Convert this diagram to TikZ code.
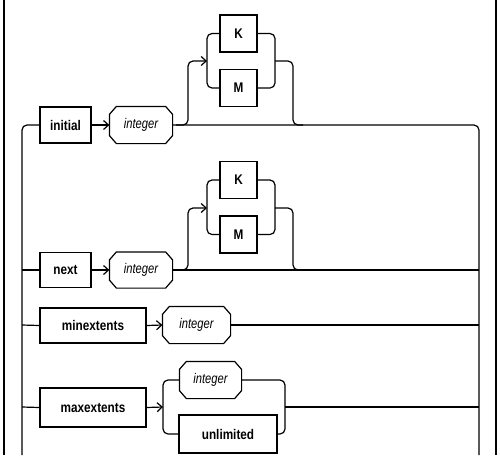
\documentclass[tikz,border=0pt]{standalone}
\usepackage{fontspec}
\setmainfont{Liberation Sans}
\newfontfamily\kwfont[FakeStretch=0.84]{Liberation Sans}
\newfontfamily\phfont[FakeStretch=0.80]{Liberation Sans}
\usetikzlibrary{arrows.meta}
\newcommand{\drawocta}[1]{%
  \draw ([xshift=7pt]#1.north west) -- ([xshift=-7pt]#1.north east)
    -- ([yshift=-8pt]#1.north east) -- ([yshift=8pt]#1.south east)
    -- ([xshift=-7pt]#1.south east) -- ([xshift=7pt]#1.south west)
    -- ([yshift=8pt]#1.south west) -- ([yshift=-8pt]#1.north west) -- cycle;}
\begin{document}
\begin{tikzpicture}[x=1pt,y=-1pt,line width=1.2pt,
  kw/.style={draw,rectangle,inner sep=0pt,font=\kwfont\bfseries\fontsize{14}{16}\selectfont},
  ph/.style={rectangle,inner sep=0pt,font=\phfont\itshape\fontsize{14}{16}\selectfont},
  arr/.style={-{Straight Barb[length=5pt,width=9pt]}},
  rc/.style={rounded corners=5pt}]
\useasboundingbox (0,0) rectangle (500,461);
% outer rails
\coordinate (olt) at (4,0);   \coordinate (olb) at (4,455);
\coordinate (ort) at (496,0); \coordinate (orb) at (496,455);
\draw (olt) -- (olb);
\draw (ort) -- (orb);
% inner rails
\coordinate (ilb) at (22,455);
\coordinate (irb) at (479,455);

% row 1
\node[kw,minimum width=51pt,minimum height=36pt] (initial) at (65.5,125) {initial};
\node[ph,minimum width=62pt,minimum height=36pt] (int1) at (141,125) {integer};
\drawocta{int1}
\node[kw,minimum width=37pt,minimum height=37pt] (K1) at (238.5,33.5) {K};
\node[kw,minimum width=37pt,minimum height=37pt] (M1) at (238.5,88) {M};
\draw[rc] (ilb) -- (22,125) -- (initial.west);
\draw[arr] (initial.east) -- (int1.west);
\draw[rc] (int1.east) -- (479,125) -- (irb);
\coordinate (g1in) at (207,61);
\coordinate (g1out) at (275,61);
\draw[rc,arr] (176,125) -- (188,125) -- (188,61) -- (g1in);
\draw[rc] (K1.west) -- (207,33.5) -- (207,88) -- (M1.west);
\draw[rc] (K1.east) -- (275,33.5) -- (275,88) -- (M1.east);
\draw[rc] (g1out) -- (293,61) -- (293,125) -- (303,125);

% row 2
\node[kw,minimum width=51pt,minimum height=35pt] (next) at (65.5,270) {next};
\node[ph,minimum width=62pt,minimum height=35pt] (int2) at (141,270) {integer};
\drawocta{int2}
\node[kw,minimum width=37pt,minimum height=37pt] (K2) at (238.5,180) {K};
\node[kw,minimum width=37pt,minimum height=37pt] (M2) at (238.5,234.5) {M};
\draw (22,270) -- (next.west);
\draw[arr] (next.east) -- (int2.west);
\draw (int2.east) -- (479,270);
\coordinate (g2in) at (207,208);
\coordinate (g2out) at (275,208);
\draw[rc,arr] (176,270) -- (188,270) -- (188,208) -- (g2in);
\draw[rc] (K2.west) -- (207,180) -- (207,234.5) -- (M2.west);
\draw[rc] (K2.east) -- (275,180) -- (275,234.5) -- (M2.east);
\draw[rc] (g2out) -- (293,208) -- (293,270) -- (303,270);

% row 3
\node[kw,minimum width=106pt,minimum height=35pt] (minext) at (93,325.5) {minextents};
\node[ph,minimum width=67pt,minimum height=36pt] (int3) at (196.5,325) {integer};
\drawocta{int3}
\draw (22,325) -- (minext.west);
\draw[arr] (minext.east) -- (int3.west);
\draw (int3.east) -- (479,325);

% row 4
\node[kw,minimum width=106pt,minimum height=39pt] (maxext) at (93,407.5) {maxextents};
\node[ph,minimum width=61pt,minimum height=36pt] (int4) at (210.5,380) {integer};
\drawocta{int4}
\node[kw,minimum width=98pt,minimum height=38pt] (unl) at (228,434) {unlimited};
\coordinate (g4in) at (163,407);
\coordinate (g4out) at (285,407);
\draw (22,407) -- (maxext.west);
\draw[arr] (maxext.east) -- (g4in);
\draw[rc] (int4.west) -- (163,380) -- (163,434) -- (unl.west);
\draw[rc] (int4.east) -- (285,380) -- (285,434) -- (unl.east);
\draw (g4out) -- (479,407);
\end{tikzpicture}
\end{document}
